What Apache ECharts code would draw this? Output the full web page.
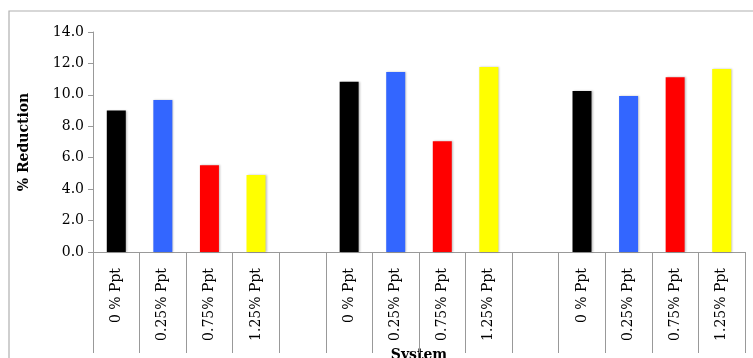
<!DOCTYPE html>
<html>
<head>
<meta charset="utf-8">
<script src="https://cdn.jsdelivr.net/npm/echarts@6/dist/echarts.min.js"></script>
<style>
  html, body { margin: 0; padding: 0; background: #fff; }
  #chart { width: 753px; height: 358px; }
</style>
</head>
<body>
<div id="chart"></div>
<script>
// concentration labels, one per bar in each group
const concLabels = ['0 % Ppt', '0.25% Ppt', '0.75% Ppt', '1.25% Ppt']
const concColors = ['#000000', '#3366ff', '#ff0000', '#ffff00']
// % reduction per system group
const group1 = [9.0, 9.67, 5.52, 4.9]
const group2 = [10.84, 11.46, 7.05, 11.78]
const group3 = [10.25, 9.93, 11.12, 11.65]
const yTicks = [0, 2, 4, 6, 8, 10, 12, 14]

// flatten groups with an empty slot between them
const categories = []
const barData = []
const groups = [group1, group2, group3]
groups.forEach((g, gi) => {
  g.forEach((v, i) => {
    categories.push(concLabels[i])
    barData.push({ value: v, itemStyle: { color: concColors[i] } })
  })
  if (gi < groups.length - 1) {
    categories.push('')
    barData.push(null)
  }
})

const chart = echarts.init(document.getElementById('chart'))
const serif = '"DejaVu Serif", "Liberation Serif", serif'
chart.setOption({
  animation: false,
  textStyle: { fontFamily: serif },
  graphic: [
    {
      type: 'rect',
      shape: { x: 9, y: 11, width: 780, height: 400 },
      style: { fill: 'none', stroke: '#b0b0b0', lineWidth: 1.2 },
      silent: true
    }
  ],
  grid: { left: 93, right: 8, top: 32, bottom: 106, outerBoundsMode: 'none' },
  xAxis: {
    type: 'category',
    data: categories,
    name: 'System',
    nameLocation: 'middle',
    nameGap: 94,
    nameTextStyle: { fontFamily: serif, fontWeight: 'bold', fontSize: 14, color: '#000' },
    axisLine: { lineStyle: { color: '#999', width: 1 } },
    axisTick: { show: true, interval: 0, length: 101, lineStyle: { color: '#999' } },
    axisLabel: {
      interval: 0,
      rotate: 90,
      margin: 16,
      fontSize: 14,
      color: '#000',
      fontFamily: serif
    }
  },
  yAxis: {
    type: 'value',
    min: 0,
    max: yTicks[yTicks.length - 1],
    interval: yTicks[1] - yTicks[0],
    name: '% Reduction',
    nameLocation: 'middle',
    nameGap: 62,
    nameTextStyle: { fontFamily: serif, fontWeight: 'bold', fontSize: 14, color: '#000' },
    axisLine: { show: true, lineStyle: { color: '#999' } },
    axisTick: { show: true, length: 5, lineStyle: { color: '#999' } },
    splitLine: { show: false },
    axisLabel: {
      fontSize: 14,
      color: '#000',
      margin: 9,
      formatter: v => v.toFixed(1)
    }
  },
  series: [
    {
      type: 'bar',
      data: barData,
      barWidth: 19,
      itemStyle: {
        shadowColor: 'rgba(0,0,0,0.25)',
        shadowBlur: 2,
        shadowOffsetX: 1
      }
    }
  ]
})
</script>
</body>
</html>
